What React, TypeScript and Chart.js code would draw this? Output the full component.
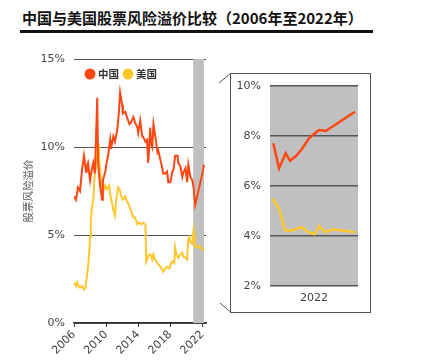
import React, { useEffect, useRef } from "react";
import { Chart, registerables } from "chart.js";
Chart.register(...registerables);

const TITLE = "中国与美国股票风险溢价比较（2006年至2022年）";
const Y_TITLE = "股票风险溢价";
const SERIES_NAMES = ["中国", "美国"];
const YEAR_TICKS = [2006, 2010, 2014, 2018, 2022];
const MAIN_Y_TICKS = [0, 5, 10, 15];
const INSET_Y_TICKS = [2, 4, 6, 8, 10];
const INSET_X_LABELS = ["2022"];
const HIGHLIGHT = [2020.85, 2022.2];

const chinaYears = [
  2006.0, 2006.25, 2006.5, 2006.75, 2007.0, 2007.25, 2007.5, 2007.6, 2007.75, 2008.0,
  2008.25, 2008.4, 2008.6, 2008.9, 2009.0, 2009.25, 2009.5, 2009.6, 2009.9, 2010.1,
  2010.25, 2010.5, 2010.6, 2010.9, 2011.1, 2011.4, 2011.6, 2011.75, 2012.0, 2012.1,
  2012.4, 2012.6, 2012.9, 2013.1, 2013.4, 2013.6, 2013.9, 2014.0, 2014.25, 2014.5,
  2014.6, 2014.9, 2015.1, 2015.25, 2015.5, 2015.6, 2015.75, 2015.9, 2016.0, 2016.25,
  2016.4, 2016.5, 2016.75, 2017.0, 2017.1, 2017.4, 2017.6, 2017.75, 2018.0, 2018.25,
  2018.4, 2018.6, 2018.9, 2019.0, 2019.25, 2019.5, 2019.6, 2019.9, 2020.1, 2020.25,
  2020.5, 2020.75, 2020.9, 2021.1, 2021.4, 2021.5, 2021.75, 2022.0, 2022.2,
];
const chinaValues = [
  7.2, 7.0, 7.7, 7.5, 8.7, 9.5, 8.6, 8.9, 9.1, 8.1,
  8.8, 9.1, 8.5, 12.8, 9.1, 7.8, 7.0, 8.1, 8.6, 9.2,
  9.5, 10.4, 9.9, 10.6, 10.3, 11.0, 12.0, 13.1, 12.4, 11.9,
  12.0, 11.7, 11.3, 11.4, 11.7, 11.4, 11.1, 10.8, 11.5, 10.6,
  10.6, 10.3, 10.4, 9.1, 11.1, 10.2, 10.0, 11.3, 11.0, 10.2,
  9.7, 9.8, 9.3, 8.8, 8.5, 8.5, 8.6, 8.0, 8.0, 8.6,
  8.7, 9.5, 9.5, 9.1, 8.9, 8.3, 8.5, 8.8, 8.0, 9.0,
  8.3, 8.1, 7.7, 6.7, 7.3, 7.5, 8.0, 8.5, 9.0,
];

const usYears = [
  2006.0, 2006.25, 2006.4, 2006.5, 2006.75, 2007.0, 2007.25, 2007.4, 2007.6, 2007.75,
  2007.9, 2008.0, 2008.1, 2008.25, 2008.4, 2008.6, 2008.75, 2009.0, 2009.1, 2009.25,
  2009.4, 2009.6, 2009.9, 2010.1, 2010.4, 2010.5, 2010.75, 2010.9, 2011.1, 2011.25,
  2011.5, 2011.75, 2011.9, 2012.1, 2012.4, 2012.6, 2012.75, 2013.0, 2013.4, 2013.6,
  2013.9, 2014.1, 2014.4, 2014.6, 2014.9, 2015.0, 2015.25, 2015.5, 2015.75, 2015.9,
  2016.1, 2016.4, 2016.75, 2017.0, 2017.1, 2017.4, 2017.6, 2017.9, 2018.1, 2018.25,
  2018.5, 2018.6, 2018.75, 2019.0, 2019.25, 2019.5, 2019.6, 2019.9, 2020.1, 2020.25,
  2020.4, 2020.5, 2020.75, 2020.9, 2021.0, 2021.1, 2021.4, 2021.6, 2021.9, 2022.05, 2022.2,
];
const usValues = [
  2.3, 2.1, 2.3, 2.15, 2.0, 2.1, 1.9, 2.0, 2.6, 3.2,
  4.0, 4.9, 5.9, 6.6, 7.0, 8.5, 8.8, 10.2, 9.5, 8.7,
  8.0, 7.4, 7.8, 7.6, 7.8, 7.3, 6.8, 6.4, 6.1, 7.0,
  7.7, 7.5, 7.2, 7.0, 7.2, 6.9, 6.8, 6.5, 6.0, 6.0,
  5.6, 5.7, 5.6, 5.7, 5.6, 3.5, 3.8, 3.9, 3.6, 3.9,
  3.6, 3.4, 3.2, 3.0, 2.9, 3.1, 3.2, 3.1, 3.4, 3.5,
  3.4, 4.3, 3.9, 3.7, 3.9, 4.0, 3.8, 3.7, 3.6, 4.8,
  4.9, 4.6, 4.5, 5.3, 5.0, 4.3, 4.3, 4.4, 4.2, 4.2, 4.15,
];

// inset (2022), x in months
const insetChinaX = [0.45, 1.23, 2.14, 2.73, 3.55, 4.32, 5.32, 5.86, 6.68, 7.6, 8.18, 9.82, 11.59];
const insetChinaY = [7.71, 6.71, 7.31, 7.01, 7.2, 7.47, 7.91, 8.04, 8.24, 8.2, 8.31, 8.63, 8.97];
const insetUsX = [0.31, 0.45, 1.23, 2.05, 2.73, 4.32, 5.23, 6.05, 6.73, 7.5, 8.55, 11.59];
const insetUsY = [5.5, 5.44, 5.08, 4.24, 4.2, 4.35, 4.15, 4.07, 4.4, 4.15, 4.27, 4.15];

const CHINA_COLOR = "#FF4713";
const US_COLOR = "#FFC72C";
const BAND_COLOR = "#C0C0C0";
const TICK_FONT = { family: "DejaVu Sans", size: 11 };

const pts = (xs: number[], ys: number[]) => xs.map((x, i) => ({ x, y: ys[i] }));

const bandPlugin = {
  id: "band",
  beforeDatasetsDraw(chart: any) {
    const { ctx, chartArea, scales } = chart;
    const x0 = scales.x.getPixelForValue(HIGHLIGHT[0]);
    const x1 = scales.x.getPixelForValue(HIGHLIGHT[1]);
    ctx.save();
    ctx.fillStyle = BAND_COLOR;
    ctx.fillRect(x0, chartArea.top, x1 - x0, chartArea.bottom - chartArea.top);
    ctx.restore();
  },
};

const legendPlugin = {
  id: "innerLegend",
  afterDraw(chart: any) {
    const { ctx, chartArea } = chart;
    ctx.save();
    let cx = chartArea.left + 16;
    const cy = chartArea.top + 15;
    ctx.font = "bold 10.5px 'Noto Sans CJK SC'";
    ctx.textBaseline = "middle";
    chart.data.datasets.forEach((ds: any) => {
      ctx.fillStyle = ds.borderColor;
      ctx.beginPath();
      ctx.arc(cx, cy, 5.5, 0, Math.PI * 2);
      ctx.fill();
      ctx.fillStyle = "#333";
      const tx = cx + 8;
      ctx.fillText(ds.label, tx, cy + 0.5);
      cx = tx + ctx.measureText(ds.label).width + 9;
    });
    ctx.restore();
  },
};

const insetPlugin = {
  id: "insetFrame",
  beforeDraw(chart: any) {
    const { ctx, chartArea } = chart;
    ctx.save();
    ctx.fillStyle = BAND_COLOR;
    ctx.fillRect(chartArea.left, chartArea.top, chartArea.right - chartArea.left, chartArea.bottom - chartArea.top);
    ctx.restore();
  },
  afterDraw(chart: any) {
    const { ctx } = chart;
    ctx.save();
    ctx.strokeStyle = "#555";
    ctx.lineWidth = 1;
    ctx.strokeRect(20.5, 13.5, 140, 239);
    ctx.beginPath();
    ctx.moveTo(9, 23);
    ctx.lineTo(20.5, 13.5);
    ctx.moveTo(10, 243);
    ctx.lineTo(20.5, 252);
    ctx.stroke();
    ctx.restore();
  },
};

export default function App() {
  const mainRef = useRef<HTMLCanvasElement>(null);
  const insetRef = useRef<HTMLCanvasElement>(null);

  useEffect(() => {
    const main = new Chart(mainRef.current!, {
      type: "line",
      data: {
        datasets: [
          { label: SERIES_NAMES[0], data: pts(chinaYears, chinaValues), borderColor: CHINA_COLOR, backgroundColor: CHINA_COLOR, borderWidth: 2, pointRadius: 0, tension: 0 },
          { label: SERIES_NAMES[1], data: pts(usYears, usValues), borderColor: US_COLOR, backgroundColor: US_COLOR, borderWidth: 2, pointRadius: 0, tension: 0 },
        ],
      },
      options: {
        animation: false,
        responsive: false,
        maintainAspectRatio: false,
        layout: { padding: { left: 18, right: 9, top: 19, bottom: 0 } },
        plugins: { legend: { display: false }, tooltip: { enabled: false } },
        scales: {
          x: {
            type: "linear",
            min: 2006,
            max: 2022.45,
            afterBuildTicks: (s: any) => { s.ticks = YEAR_TICKS.map((v) => ({ value: v })); },
            afterFit: (s: any) => { s.height = 39; },
            ticks: { minRotation: 45, maxRotation: 45, autoSkip: false, padding: 1, font: TICK_FONT, color: "#444", callback: (v: any) => String(v) },
            grid: { drawOnChartArea: false, drawTicks: true, tickLength: 4, color: "#333", lineWidth: 1 },
            border: { display: true, color: "#333", width: 1.5 },
          },
          y: {
            min: 0,
            max: 15,
            afterBuildTicks: (s: any) => { s.ticks = MAIN_Y_TICKS.map((v) => ({ value: v })); },
            afterFit: (s: any) => { s.width = 56; },
            ticks: { padding: 9, font: TICK_FONT, color: "#444", callback: (v: any) => v + "%" },
            grid: { color: "#555", drawTicks: false, lineWidth: 1 },
            border: { display: false },
            title: { display: true, text: Y_TITLE, font: { family: "Noto Sans CJK SC", size: 10.5 }, color: "#555", padding: { top: 4, bottom: 4 } },
          },
        },
      } as any,
      plugins: [bandPlugin, legendPlugin],
    });

    const inset = new Chart(insetRef.current!, {
      type: "line",
      data: {
        datasets: [
          { label: SERIES_NAMES[0], data: pts(insetChinaX, insetChinaY), borderColor: CHINA_COLOR, borderWidth: 2.5, pointRadius: 0, tension: 0 },
          { label: SERIES_NAMES[1], data: pts(insetUsX, insetUsY), borderColor: US_COLOR, borderWidth: 2.5, pointRadius: 0, tension: 0 },
        ],
      },
      options: {
        animation: false,
        responsive: false,
        maintainAspectRatio: false,
        layout: { padding: { left: 0, right: 22, top: 26, bottom: 0 } },
        plugins: { legend: { display: false }, tooltip: { enabled: false } },
        scales: {
          x: {
            type: "linear",
            min: 0,
            max: 12,
            afterBuildTicks: (s: any) => { s.ticks = [{ value: 6 }]; },
            afterFit: (s: any) => { s.height = 34; },
            ticks: { padding: 6, maxRotation: 0, font: TICK_FONT, color: "#444", callback: () => INSET_X_LABELS[0] },
            grid: { display: false, drawTicks: false },
            border: { display: false },
          },
          y: {
            min: 2,
            max: 10,
            afterBuildTicks: (s: any) => { s.ticks = INSET_Y_TICKS.map((v) => ({ value: v })); },
            afterFit: (s: any) => { s.width = 60; },
            ticks: { padding: 9, font: TICK_FONT, color: "#444", callback: (v: any) => v + "%" },
            grid: { color: "#555", drawTicks: false, lineWidth: 1.5 },
            border: { display: false },
          },
        },
      } as any,
      plugins: [insetPlugin],
    });

    return () => {
      main.destroy();
      inset.destroy();
    };
  }, []);

  return (
    <div style={{ position: "absolute", left: 0, top: 0, width: 430, height: 362, background: "#fff", overflow: "hidden" }}>
      <div style={{ position: "absolute", left: 22, top: 10, font: "bold 15px 'Noto Sans CJK SC'", lineHeight: "15px", color: "#111", whiteSpace: "nowrap" }}>{TITLE}</div>
      <div style={{ position: "absolute", left: 20, top: 30, width: 353, height: 3, background: "#111" }} />
      <canvas ref={mainRef} width={215} height={322} style={{ position: "absolute", left: 0, top: 40, width: 215, height: 322 }} />
      <canvas ref={insetRef} width={170} height={260} style={{ position: "absolute", left: 210, top: 60, width: 170, height: 260 }} />
    </div>
  );
}
